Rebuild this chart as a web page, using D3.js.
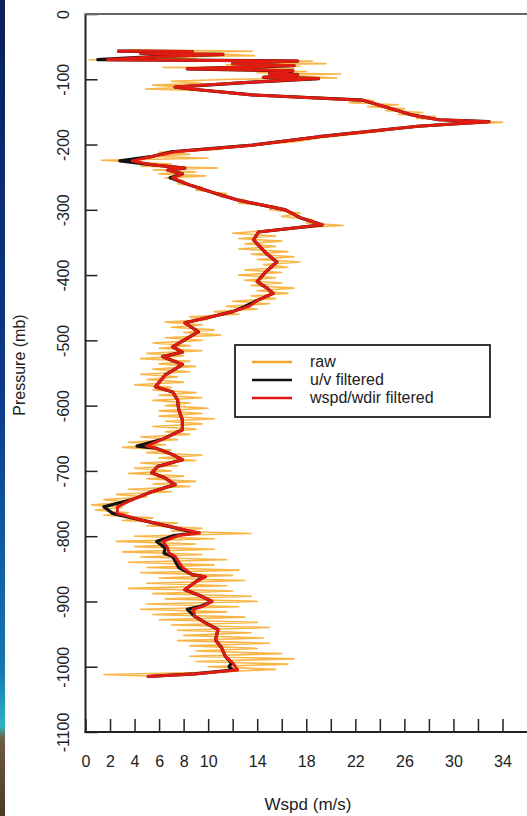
<!DOCTYPE html>
<html>
<head>
<meta charset="utf-8">
<script src="https://cdn.jsdelivr.net/npm/d3@7"></script>
<style>
	body { margin: 0; background: #fff; }
	svg { display: block; }
	text { font-family: "Liberation Sans", Arial, sans-serif; fill: #222; }
</style>
</head>
<body>
<div id="vis"></div>
<script>

// pressure (mb) / wind speed (m/s) pairs
var rawData = [
	[-55,3.5],[-57,13.6],[-60,5.0],[-62,12.0],[-64,13.8],[-66,4.5],[-68,9.0],[-70,0.3],[-72,18.5],[-74,12.0],
	[-76,19.6],[-78,11.5],[-80,17.5],[-82,6.3],[-84,17.0],[-86,10.0],[-88,18.0],[-90,14.0],[-92,20.8],[-94,15.0],
	[-96,18.0],[-98,20.5],[-100,12.0],[-103,7.0],[-106,9.5],[-109,5.5],[-112,8.5],[-115,4.9],[-118,10.5],[-121,11.5],
	[-124,14.5],[-127,18.0],[-130,22.0],[-133,23.5],[-136,21.5],[-139,25.5],[-142,23.0],[-145,26.0],[-148,24.5],[-151,27.5],
	[-154,25.5],[-157,28.5],[-160,27.0],[-163,31.0],[-166,34.0],[-169,30.0],[-172,28.0],[-176,25.0],[-180,24.0],[-185,21.5],
	[-190,19.0],[-195,17.5],[-200,14.5],[-204,12.0],[-208,10.5],[-212,6.0],[-215,8.5],[-218,5.0],[-221,10.0],[-224,1.3],
	[-227,4.0],[-230,7.0],[-233,4.5],[-236,10.8],[-239,5.5],[-242,9.0],[-245,6.0],[-248,9.8],[-251,6.5],[-255,8.0],
	[-260,7.5],[-265,9.5],[-270,9.0],[-275,11.5],[-280,11.0],[-285,13.0],[-290,12.5],[-295,15.5],[-300,15.0],[-305,17.5],
	[-310,16.0],[-315,18.5],[-320,18.0],[-324,21.0],[-328,17.0],[-332,14.5],[-336,12.0],[-340,15.5],[-344,12.5],[-348,16.0],
	[-352,13.0],[-356,15.5],[-360,12.5],[-364,16.5],[-368,13.5],[-372,17.0],[-376,14.0],[-380,17.5],[-384,14.5],[-388,16.5],
	[-392,13.0],[-396,16.0],[-400,12.5],[-404,15.5],[-408,13.0],[-412,16.0],[-416,13.5],[-420,17.0],[-424,14.0],[-428,16.5],
	[-432,13.5],[-436,15.5],[-440,12.0],[-444,15.0],[-448,11.5],[-452,14.0],[-456,10.5],[-460,12.5],[-464,8.5],[-468,10.0],
	[-472,6.5],[-476,9.5],[-480,7.0],[-484,10.5],[-488,8.0],[-492,11.0],[-496,6.5],[-500,9.5],[-504,5.5],[-508,8.5],
	[-512,6.0],[-516,9.5],[-520,5.0],[-524,8.0],[-528,4.5],[-532,8.5],[-536,6.0],[-540,9.0],[-544,5.5],[-548,8.5],
	[-552,4.5],[-556,7.5],[-560,5.0],[-564,8.0],[-568,4.0],[-572,7.0],[-576,5.5],[-580,9.0],[-584,6.0],[-588,9.5],
	[-592,5.5],[-596,8.5],[-600,6.5],[-604,10.0],[-608,6.0],[-612,9.5],[-616,6.0],[-620,10.5],[-624,6.5],[-628,9.5],
	[-632,5.5],[-636,9.0],[-640,6.5],[-644,8.5],[-648,4.5],[-652,7.5],[-656,3.5],[-660,6.5],[-664,3.0],[-668,7.0],
	[-672,5.0],[-676,9.5],[-680,6.0],[-684,9.0],[-688,4.5],[-692,7.5],[-696,4.0],[-700,7.0],[-704,3.5],[-708,8.0],
	[-712,5.0],[-716,9.0],[-720,5.5],[-724,8.5],[-728,3.5],[-732,7.0],[-736,2.5],[-740,5.0],[-744,1.5],[-748,3.5],
	[-752,0.5],[-756,3.0],[-760,0.8],[-764,3.5],[-768,1.5],[-772,5.5],[-776,3.0],[-780,7.5],[-784,5.0],[-788,9.5],
	[-792,7.0],[-796,13.5],[-800,4.0],[-804,10.5],[-808,2.5],[-812,9.0],[-816,4.0],[-820,10.5],[-824,3.0],[-828,9.5],
	[-832,4.5],[-836,11.5],[-840,3.5],[-844,10.5],[-848,5.0],[-852,12.5],[-856,4.5],[-860,12.0],[-864,6.0],[-868,13.0],
	[-872,5.0],[-876,11.5],[-880,3.5],[-884,12.0],[-888,5.5],[-892,13.5],[-896,6.5],[-900,14.0],[-904,5.0],[-908,12.5],
	[-912,4.5],[-916,11.5],[-920,5.5],[-924,13.0],[-928,6.0],[-932,14.0],[-936,7.0],[-940,15.0],[-944,7.5],[-948,13.5],
	[-952,8.0],[-956,14.5],[-960,7.5],[-964,15.0],[-968,8.5],[-972,14.0],[-976,9.0],[-980,16.0],[-984,8.5],[-988,17.0],
	[-992,9.0],[-996,16.5],[-1000,10.0],[-1004,15.5],[-1008,11.0],[-1012,1.5],[-1015,6.0]
];

var wdirData = [
	[-57,2.6],[-57.5,8.7],[-60,4.5],[-62,11.2],[-65,6.0],[-70,1.8],[-72,17.3],[-76,12.0],[-79,17.0],[-84,8.3],
	[-87,16.9],[-91,15.0],[-93,17.3],[-97,14.5],[-99,19.0],[-105,13.0],[-112,7.3],[-116,9.2],[-124,13.6],[-132,22.6],
	[-142,24.4],[-155,26.7],[-162,28.8],[-165,32.9],[-172,27.1],[-188,19.0],[-201,13.6],[-211,7.3],[-218,5.5],[-225,3.8],
	[-231,5.4],[-236,8.1],[-239,6.7],[-245,7.9],[-251,7.1],[-262,8.5],[-276,10.8],[-285,12.4],[-300,16.3],[-312,17.5],
	[-323,19.3],[-334,14.1],[-346,13.7],[-366,14.7],[-380,15.6],[-395,14.7],[-410,14.0],[-420,14.8],[-428,15.3],[-438,14.1],
	[-448,13.3],[-456,12.0],[-465,10.0],[-473,8.1],[-487,9.2],[-499,8.1],[-510,7.1],[-518,7.9],[-525,6.3],[-537,7.9],
	[-553,6.5],[-571,5.7],[-579,7.1],[-591,7.5],[-606,7.6],[-622,7.9],[-637,7.9],[-652,6.2],[-662,5.0],[-665,5.7],
	[-675,7.1],[-683,7.9],[-693,5.9],[-703,5.4],[-711,6.5],[-721,7.3],[-732,5.4],[-744,3.8],[-755,2.6],[-765,2.6],
	[-775,4.5],[-785,6.8],[-795,9.3],[-799,7.6],[-808,6.3],[-818,6.7],[-826,6.8],[-831,7.3],[-848,7.9],[-859,8.7],
	[-862,9.8],[-871,8.9],[-882,8.1],[-890,9.2],[-900,10.3],[-908,9.5],[-912,8.8],[-923,8.9],[-933,9.8],[-943,10.8],
	[-959,10.6],[-971,11.1],[-984,11.4],[-994,12.0],[-1005,12.4],[-1011,8.9],[-1015,5.0]
];

var uvData = [
	[-57,2.6],[-57.5,8.7],[-60,4.5],[-62,11.2],[-65,6.0],[-70,1.0],[-72,17.3],[-76,12.0],[-79,17.0],[-84,8.3],
	[-87,16.9],[-91,15.0],[-93,17.3],[-97,14.5],[-99,19.0],[-105,13.0],[-112,7.3],[-116,9.2],[-124,13.6],[-132,22.6],
	[-142,24.4],[-155,26.7],[-162,28.8],[-165,32.9],[-172,27.1],[-188,19.0],[-201,13.6],[-211,7.0],[-218,5.5],[-225,2.8],
	[-231,5.4],[-236,8.1],[-239,6.7],[-245,7.9],[-251,6.9],[-262,8.5],[-276,10.8],[-285,12.4],[-300,16.3],[-312,17.5],
	[-323,19.3],[-334,14.1],[-346,13.7],[-366,14.7],[-380,15.6],[-395,14.7],[-410,14.0],[-420,14.8],[-428,15.3],[-438,14.1],
	[-448,13.0],[-456,12.0],[-465,10.0],[-473,8.1],[-487,9.2],[-499,8.1],[-510,7.1],[-518,7.9],[-525,6.3],[-537,7.9],
	[-553,6.5],[-571,5.7],[-579,7.1],[-591,7.5],[-606,7.6],[-622,7.9],[-637,7.9],[-652,6.2],[-662,4.2],[-665,5.7],
	[-675,7.1],[-683,7.9],[-693,5.9],[-703,5.4],[-711,6.5],[-721,7.3],[-732,5.4],[-744,3.8],[-755,1.5],[-765,2.2],
	[-775,4.5],[-785,6.8],[-795,9.0],[-799,7.2],[-808,5.8],[-818,6.5],[-826,6.4],[-831,7.1],[-848,7.6],[-859,8.7],
	[-862,9.6],[-871,8.9],[-882,8.1],[-890,9.2],[-900,10.3],[-908,9.3],[-912,8.3],[-923,8.9],[-933,9.8],[-943,10.8],
	[-959,10.6],[-971,11.1],[-984,11.4],[-994,11.9],[-1000,11.7],[-1005,12.0],[-1011,8.9],[-1015,5.0]
];

var pressureTicks = [0,-100,-200,-300,-400,-500,-600,-700,-800,-900,-1000,-1100];
var wspdTicks = [0,2,4,6,8,10,12,14,16,18,20,22,24,26,28,30,32,34];
var wspdLabels = [0,2,4,6,8,10,14,18,22,26,30,34];

var seriesNames = ["raw", "u/v filtered", "wspd/wdir filtered"];
var seriesColours = ["#f8a928", "#111111", "#e01b12"];

function drawChart () {

	var W = 527, H = 816;
	var left = 85.5, top = 14, bottom = 732;

	var svg = d3.select("#vis").append("svg")
	.attr("width", W)
	.attr("height", H);

	svg.append("rect")
	.attr("width", W)
	.attr("height", H)
	.attr("fill", "#fff");

	// slide background peeking in on the left edge
	var grad = svg.append("defs").append("linearGradient")
	.attr("id", "edge")
	.attr("x1", 0).attr("y1", 0).attr("x2", 0).attr("y2", 1);
	[[0, "#0b1f5a"], [0.5, "#0c3c8c"], [0.82, "#1577b0"], [0.89, "#2bb3c4"], [0.905, "#6e5c44"], [1, "#4a3a26"]].forEach(function (s) {
		grad.append("stop").attr("offset", s[0]).attr("stop-color", s[1]);
	});

	svg.append("rect")
	.attr("x", 0)
	.attr("y", 0)
	.attr("width", 5)
	.attr("height", H)
	.attr("fill", "url(#edge)");

	var x = d3.scaleLinear()
	.domain([0, 34])
	.range([left, 502.5]);

	var y = d3.scaleLinear()
	.domain([0, -1100])
	.range([top, bottom]);

	var line = d3.line()
	.x(function (d) { return x(d[1]); })
	.y(function (d) { return y(d[0]); });

	var plot = svg.append("g");

	plot.append("path")
	.datum(rawData)
	.attr("d", line)
	.attr("fill", "none")
	.attr("stroke", seriesColours[0])
	.attr("stroke-opacity", 0.85)
	.attr("stroke-width", 1.6)
	.attr("stroke-linejoin", "round");

	plot.append("path")
	.datum(uvData)
	.attr("d", line)
	.attr("fill", "none")
	.attr("stroke", seriesColours[1])
	.attr("stroke-width", 3.2)
	.attr("stroke-linejoin", "round");

	plot.append("path")
	.datum(wdirData)
	.attr("d", line)
	.attr("fill", "none")
	.attr("stroke", seriesColours[2])
	.attr("stroke-width", 3)
	.attr("stroke-linejoin", "round");

	// axes, ticks pointing inwards like the original
	var xAxis = svg.append("g")
	.attr("transform", "translate(0," + bottom + ")")
	.call(d3.axisBottom(x)
		.tickValues(wspdTicks)
		.tickSizeInner(-13)
		.tickSizeOuter(0)
		.tickPadding(24)
		.tickFormat(function (d) { return wspdLabels.indexOf(d) > -1 ? String(d) : ""; }));

	xAxis.select(".domain").remove();
	xAxis.selectAll(".tick line").attr("stroke", "#222").attr("stroke-width", 1.5);
	xAxis.selectAll(".tick text").attr("font-size", 16).attr("fill", "#222");

	var yAxis = svg.append("g")
	.attr("transform", "translate(" + left + ",0)")
	.call(d3.axisLeft(y)
		.tickValues(pressureTicks)
		.tickSizeInner(-12)
		.tickSizeOuter(0)
		.tickFormat(function (d) { return String(d); }));

	yAxis.select(".domain").remove();
	yAxis.selectAll(".tick line").attr("stroke", "#222").attr("stroke-width", 1.5);
	yAxis.selectAll(".tick text")
	.attr("transform", "rotate(-90)")
	.attr("x", 0)
	.attr("y", -17)
	.attr("dy", 0)
	.attr("text-anchor", "middle")
	.attr("font-size", 16)
	.attr("fill", "#222");

	svg.append("line")
	.attr("x1", left).attr("x2", left)
	.attr("y1", top).attr("y2", bottom + 1)
	.attr("stroke", "#222")
	.attr("stroke-width", 2);

	svg.append("line")
	.attr("x1", left - 1).attr("x2", W)
	.attr("y1", bottom).attr("y2", bottom)
	.attr("stroke", "#222")
	.attr("stroke-width", 2);

	svg.append("line")
	.attr("x1", left - 1).attr("x2", W)
	.attr("y1", top).attr("y2", top)
	.attr("stroke", "#666")
	.attr("stroke-width", 2);

	svg.append("text")
	.attr("x", 308)
	.attr("y", 810)
	.attr("text-anchor", "middle")
	.attr("font-size", 17)
	.text("Wspd (m/s)");

	svg.append("text")
	.attr("transform", "translate(25,365) rotate(-90)")
	.attr("text-anchor", "middle")
	.attr("font-size", 16)
	.text("Pressure (mb)");

	// legend
	var legend = svg.append("g");

	legend.append("rect")
	.attr("x", 235)
	.attr("y", 345)
	.attr("width", 255)
	.attr("height", 72)
	.attr("fill", "#fff")
	.attr("stroke", "#222")
	.attr("stroke-width", 1.8);

	var key = legend.selectAll(".key")
	.data(seriesNames)
	.enter()
	.append("g")
	.attr("class", "key")
	.attr("transform", function (d, i) {
		return "translate(252," + (362 + i*18) + ")";
	});

	key.append("line")
	.attr("x1", 0)
	.attr("x2", 40)
	.attr("stroke", function (d, i) { return seriesColours[i]; })
	.attr("stroke-width", 2.5);

	key.append("text")
	.attr("x", 58)
	.attr("y", 5)
	.attr("font-size", 16)
	.text(function (d) { return d; });
}

drawChart();

</script>
</body>
</html>
